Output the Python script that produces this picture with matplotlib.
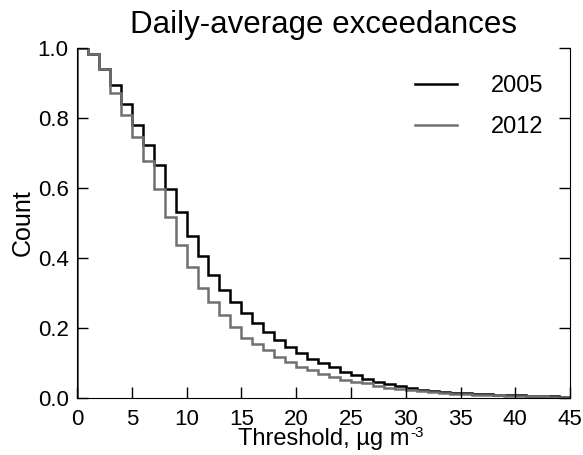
import numpy as np
import matplotlib
matplotlib.use('Agg')
import matplotlib.pyplot as plt

plt.rcParams['font.family'] = ['Liberation Sans', 'DejaVu Sans']

# threshold bin edges, ug m-3
edges = np.arange(0, 46)

# fraction of days exceeding each threshold
count_2005 = [1.0, 0.982, 0.939, 0.894, 0.840, 0.780, 0.723, 0.666, 0.596, 0.532,
              0.464, 0.406, 0.353, 0.310, 0.275, 0.244, 0.215, 0.189, 0.166, 0.146,
              0.129, 0.113, 0.099, 0.088, 0.075, 0.066, 0.056, 0.047, 0.040, 0.034,
              0.028, 0.023, 0.020, 0.018, 0.016, 0.014, 0.012, 0.011, 0.010, 0.009,
              0.008, 0.007, 0.006, 0.005, 0.004]
count_2012 = [1.0, 0.982, 0.939, 0.871, 0.809, 0.745, 0.678, 0.597, 0.516, 0.437,
              0.375, 0.315, 0.275, 0.237, 0.202, 0.173, 0.156, 0.137, 0.118, 0.104,
              0.090, 0.080, 0.068, 0.059, 0.051, 0.047, 0.042, 0.034, 0.030, 0.026,
              0.023, 0.020, 0.017, 0.015, 0.013, 0.012, 0.010, 0.009, 0.008, 0.007,
              0.006, 0.005, 0.005, 0.004, 0.003]

years = ['2005', '2012']
colors = ['black', '#707070']


def main():

    fig = plt.figure(figsize=(5.83, 4.55), dpi=100)
    ax = fig.add_axes([0.132, 0.125, 0.846, 0.7695])

    for vals, lab, col in zip([count_2005, count_2012], years, colors):
        ax.stairs(vals, edges, baseline=0, color=col, linewidth=1.8, label=lab)

    ax.set_xlim(0, 45)
    ax.set_ylim(0, 1.0)
    ax.set_xticks(np.arange(0, 46, 5))
    ax.set_yticks(np.arange(0, 1.01, 0.2))
    ax.set_yticklabels([f'{v:.1f}' for v in np.arange(0, 1.01, 0.2)])

    ax.spines['top'].set_visible(False)
    ax.tick_params(direction='in', length=8, width=1, labelsize=16,
                   left=True, right=True, bottom=True, top=False)
    ax.tick_params(axis='x', pad=7.5)
    ax.tick_params(axis='y', pad=6)

    ax.set_title('Daily-average exceedances', fontsize=22.5, pad=11)
    ax.set_xlabel('Threshold, µg m', fontsize=17, labelpad=-1)
    # small superscript after the unit
    ax.annotate('-3', xy=(1, 1), xycoords=ax.xaxis.label, xytext=(1, 1.5),
                textcoords='offset points', fontsize=11, ha='left', va='top')
    ax.set_ylabel('Count', fontsize=18, labelpad=2)

    ax.legend(loc='upper right', frameon=False, fontsize=17, handlelength=1.8,
              handletextpad=1.4, labelspacing=0.8, borderaxespad=0.75)

    plt.savefig('out.png', dpi=100)
    plt.close()


if __name__ == "__main__":
    main()
